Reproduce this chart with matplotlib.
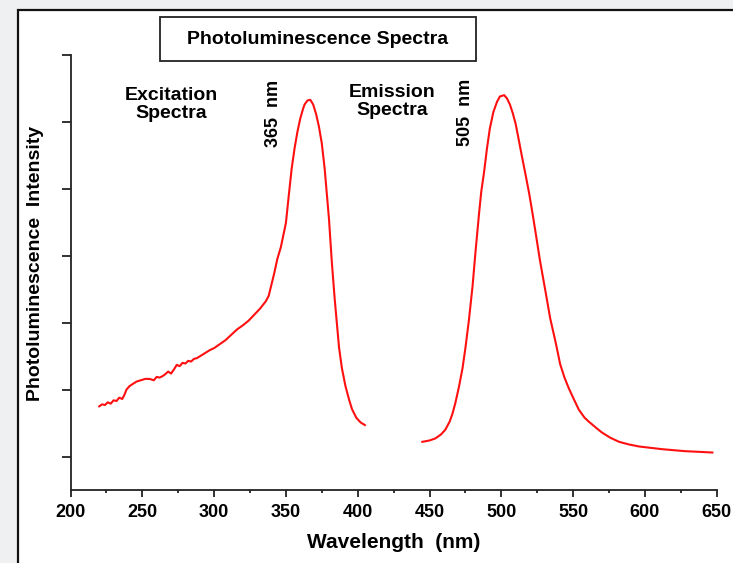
import matplotlib.pyplot as plt
from matplotlib.patches import Rectangle
from matplotlib.ticker import MultipleLocator

# excitation spectrum (nm, intensity in arbitrary units)
exc_nm = [220, 222, 224, 226, 228, 230, 232, 234, 236, 237.5, 239, 241, 243, 246,
          249, 252, 255, 258, 260, 262, 264, 266, 268, 270, 272, 274, 276, 278,
          280, 282, 284, 286, 288, 291, 294, 297, 300, 304, 308, 312, 316, 320,
          324, 328, 332, 336, 338, 339.5, 342, 344, 346.5, 350, 352, 354, 356,
          358, 360, 362, 363, 365, 367, 369, 371, 373, 375, 377, 378, 380, 382,
          384, 387, 389, 391.5, 394, 396, 399, 402, 405]
exc_int = [1.25, 1.28, 1.27, 1.31, 1.29, 1.34, 1.33, 1.38, 1.36, 1.42, 1.50, 1.55,
           1.58, 1.62, 1.64, 1.66, 1.66, 1.64, 1.69, 1.68, 1.70, 1.73, 1.77, 1.74,
           1.80, 1.87, 1.85, 1.90, 1.89, 1.93, 1.92, 1.96, 1.97, 2.01, 2.05, 2.09,
           2.12, 2.18, 2.24, 2.32, 2.40, 2.46, 2.53, 2.62, 2.71, 2.82, 2.90, 3.03,
           3.25, 3.45, 3.63, 3.99, 4.40, 4.80, 5.10, 5.35, 5.55, 5.70, 5.76, 5.82,
           5.83, 5.76, 5.62, 5.43, 5.18, 4.80, 4.55, 4.05, 3.40, 2.85, 2.13, 1.82,
           1.55, 1.35, 1.21, 1.08, 1.01, 0.97]

# emission spectrum
emi_nm = [445, 450, 454, 458, 461, 464, 466, 468, 470.5, 473, 475, 477.5, 480, 482,
          484.5, 486, 488, 490, 492, 494.5, 497, 499, 502, 504, 506, 508, 510, 512,
          514.5, 517, 519.5, 522, 524, 527, 531, 534, 538, 541, 544, 547, 550, 554,
          558, 561, 566, 570, 576, 582, 589, 596, 604, 612, 620, 628, 638, 647]
emi_int = [0.72, 0.74, 0.77, 0.83, 0.90, 1.02, 1.14, 1.30, 1.54, 1.82, 2.12, 2.55,
           3.05, 3.55, 4.13, 4.45, 4.75, 5.10, 5.40, 5.65, 5.80, 5.88, 5.90, 5.85,
           5.76, 5.63, 5.47, 5.25, 4.97, 4.70, 4.42, 4.10, 3.83, 3.42, 2.94, 2.57,
           2.19, 1.88, 1.68, 1.52, 1.38, 1.20, 1.08, 1.02, 0.93, 0.86, 0.78, 0.72,
           0.68, 0.65, 0.63, 0.61, 0.595, 0.58, 0.57, 0.56]

x_ticks = [200, 250, 300, 350, 400, 450, 500, 550, 600, 650]

W, H = 733, 563
plt.rcParams['font.family'] = ['Liberation Sans', 'DejaVu Sans']
plt.rcParams['font.weight'] = 'bold'

fig = plt.figure(figsize=(W / 100, H / 100), dpi=100, facecolor='#eef0f2')

# white panel with black frame (runs off the right and bottom edge)
fig.patches.append(Rectangle((18 / W, -0.1), 1.2, 1.1 - 10 / H, transform=fig.transFigure,
                             facecolor='white', edgecolor='#111111', linewidth=1.6, zorder=-5))

ax = fig.add_axes([70.5 / W, 1 - 490 / H, 646.2 / W, 435 / H])
ax.set_facecolor('none')
ax.set_zorder(2)

ax.plot(exc_nm, exc_int, color='#ff1010', lw=1.5)
ax.plot(emi_nm, emi_int, color='#ff1010', lw=1.5)

ax.set_xlim(200, 650)
ax.set_ylim(0, 6.5)
ax.set_xticks(x_ticks)
ax.xaxis.set_minor_locator(MultipleLocator(25))
ax.set_yticks([0.5, 1.5, 2.5, 3.5, 4.5, 5.5, 6.5])
ax.set_yticklabels([])
for side in ['top', 'right']:
    ax.spines[side].set_visible(False)
for side in ['left', 'bottom']:
    ax.spines[side].set_linewidth(1.3)
    ax.spines[side].set_color('#222222')
ax.tick_params(axis='x', which='major', direction='out', length=5, width=1.3,
               color='#222222', labelsize=13, pad=5)
ax.tick_params(axis='x', which='minor', direction='out', length=2.5, width=1.3, color='#222222')
ax.tick_params(axis='y', which='major', direction='out', length=6.5, width=1.3, color='#222222')
for lab in ax.get_xticklabels():
    lab.set_fontweight('bold')

ax.set_xlabel('Wavelength  (nm)', fontsize=15, fontweight='bold', labelpad=9)
fig.text(36 / W, 1 - 263 / H, 'Photoluminescence  Intensity', rotation=90,
         ha='center', va='center', fontsize=14, fontweight='bold')

ax.text(270, 5.76, 'Excitation\nSpectra', ha='center', va='center', fontsize=14,
        fontweight='bold', linespacing=1.1)
ax.text(424, 5.81, 'Emission\nSpectra', ha='center', va='center', fontsize=14,
        fontweight='bold', linespacing=1.1)
ax.text(341.7, 5.63, '365  nm', rotation=90, ha='center', va='center', fontsize=13,
        fontweight='bold')
ax.text(475.4, 5.64, '505  nm', rotation=90, ha='center', va='center', fontsize=13,
        fontweight='bold')

# title box
fig.patches.append(Rectangle((160 / W, 1 - 61 / H), 316 / W, 44 / H, transform=fig.transFigure,
                             facecolor='white', edgecolor='#222222', linewidth=1.3, zorder=1))
fig.text(317.5 / W, 1 - 39 / H, 'Photoluminescence Spectra', ha='center', va='center',
         fontsize=14, fontweight='bold', zorder=3)

fig.savefig('out.png', dpi=100, facecolor=fig.get_facecolor())
